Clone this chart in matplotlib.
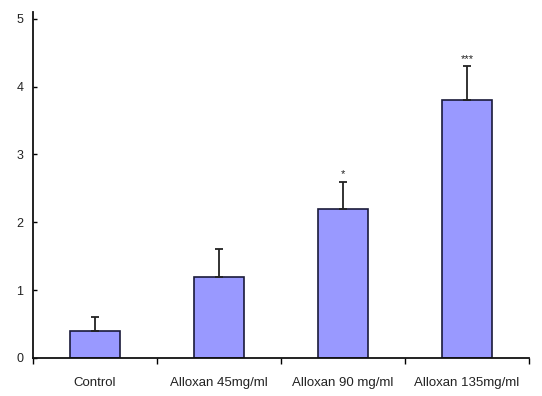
import matplotlib
matplotlib.use("Agg")
import matplotlib.pyplot as plt
import numpy as np

categories = ["Control", "Alloxan 45mg/ml", "Alloxan 90 mg/ml", "Alloxan 135mg/ml"]
values = [0.4, 1.2, 2.2, 3.8]
errors = [0.2, 0.4, 0.4, 0.5]
signif = ["", "", "*", "***"]
yticks = [0, 1, 2, 3, 4, 5]

plt.rcParams['font.family'] = ['Liberation Sans', 'DejaVu Sans']

fig = plt.figure(figsize=(5.42, 3.96), dpi=100)
ax = fig.add_axes([33/542, 1-358/396, (529-33)/542, 346/396])

x = np.arange(len(categories))
ax.bar(x, values, width=0.4, color="#9999FF", edgecolor="#1a1a3a", linewidth=1.2, zorder=2)
ax.errorbar(x, values, yerr=[np.zeros(len(errors)), errors], fmt="none",
            ecolor="#222222", elinewidth=1.3, capsize=3, capthick=1.3, zorder=3)
for xi, v, e, s in zip(x, values, errors, signif):
    if s:
        ax.text(xi, v + e + 0.03, s, ha="center", va="bottom", fontsize=8, color="#222222")

ax.set_xlim(-0.5, 3.5)
ax.set_ylim(0, 5.1)
ax.set_yticks(yticks)
ax.set_xticks(x)
ax.set_xticklabels(categories, fontsize=9.5, color="#222222")
ax.set_xticks(np.arange(-0.5, 3.6, 1), minor=True)
ax.tick_params(axis="x", which="major", length=0, pad=14)
ax.tick_params(axis="x", which="minor", length=4, width=1, direction="out")
ax.tick_params(axis="y", labelsize=9, length=3, width=1, direction="in", pad=7, labelcolor="#222222")
for s in ["top", "right"]:
    ax.spines[s].set_visible(False)
for s in ["left", "bottom"]:
    ax.spines[s].set_linewidth(1.3)
    ax.spines[s].set_color("#111111")

fig.savefig("out.png", dpi=100)
